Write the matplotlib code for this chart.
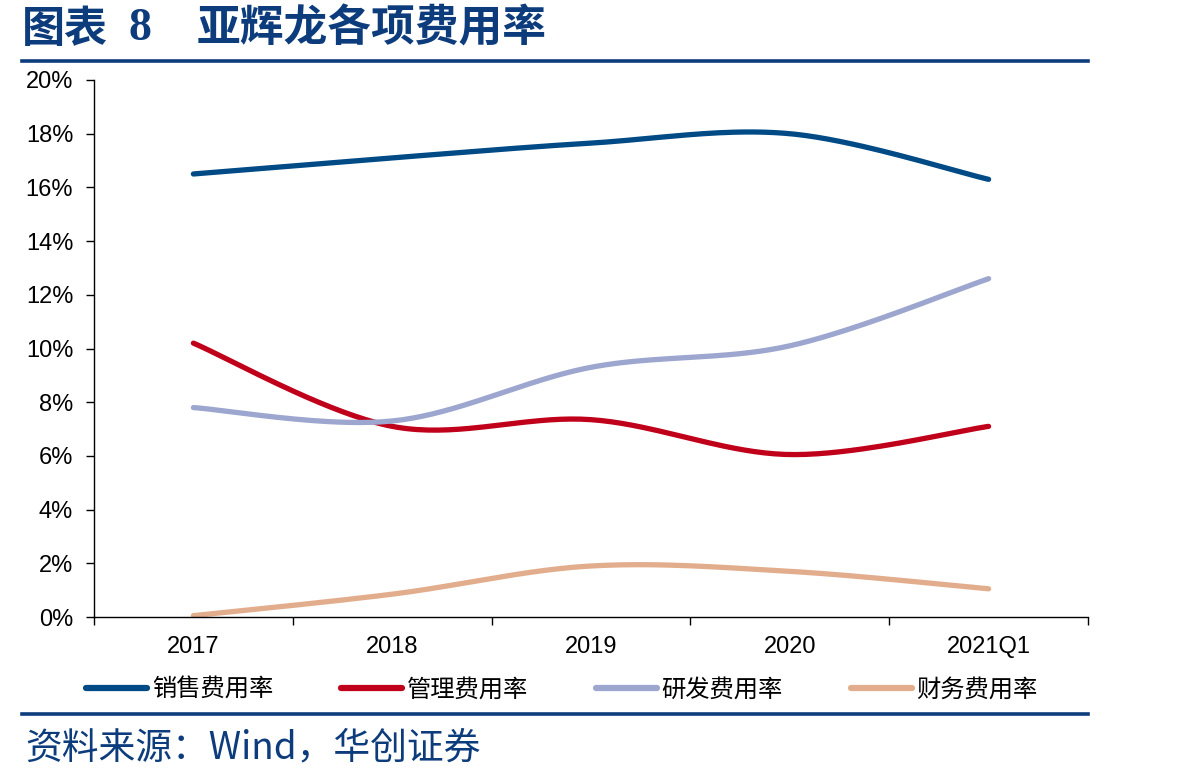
import numpy as np
import matplotlib.pyplot as plt
from matplotlib.lines import Line2D

categories = ['2017', '2018', '2019', '2020', '2021Q1']
sales = [16.5, 17.1, 17.65, 18.0, 16.3]
admin = [10.2, 7.1, 7.35, 6.05, 7.1]
rnd = [7.8, 7.3, 9.3, 10.1, 12.6]
finance = [0.05, 0.85, 1.9, 1.7, 1.05]

series_names = ['销售费用率', '管理费用率', '研发费用率', '财务费用率']
colors = ['#004A86', '#C0001A', '#9CA6CE', '#E2AD8C']

NAVY = '#0D3C7C'
CJK = ['Noto Sans CJK SC', 'DejaVu Sans']


def smooth(x, y, n=40):
    # Excel-like smoothing: Catmull-Rom converted to cubic Bezier segments
    x = np.asarray(x, float)
    y = np.asarray(y, float)
    px = np.concatenate([[x[0]], x, [x[-1]]])
    py = np.concatenate([[y[0]], y, [y[-1]]])
    xs, ys = [], []
    t = np.linspace(0, 1, n)
    for i in range(1, len(px) - 2):
        p0 = np.array([px[i], py[i]])
        p3 = np.array([px[i + 1], py[i + 1]])
        p1 = p0 + (np.array([px[i + 1], py[i + 1]]) - np.array([px[i - 1], py[i - 1]])) / 6
        p2 = p3 - (np.array([px[i + 2], py[i + 2]]) - np.array([px[i], py[i]])) / 6
        b = ((1 - t) ** 3)[:, None] * p0 + (3 * (1 - t) ** 2 * t)[:, None] * p1 \
            + (3 * (1 - t) * t ** 2)[:, None] * p2 + (t ** 3)[:, None] * p3
        xs.extend(b[:, 0])
        ys.extend(b[:, 1])
    return np.array(xs), np.array(ys)


fig = plt.figure(figsize=(11.98, 7.83), dpi=100)
ax = fig.add_axes([94 / 1198, 1 - 617 / 783, 994 / 1198, 537 / 783])

x = np.arange(len(categories))
for vals, c in zip([sales, admin, rnd, finance], colors):
    sx, sy = smooth(x, vals)
    ax.plot(sx, sy, color=c, lw=3.8, solid_capstyle='round')

ax.set_xlim(-0.5, len(categories) - 0.5)
ax.set_ylim(0, 20)
ax.set_yticks(np.arange(0, 21, 2))
ax.set_yticklabels([f'{v}%' for v in range(0, 21, 2)], fontfamily='Liberation Sans', fontsize=17)
ax.set_xticks(x)
ax.set_xticklabels(categories, fontfamily='Liberation Sans', fontsize=17)
ax.set_xticks(np.arange(-0.5, len(categories)), minor=True)
ax.tick_params(axis='x', which='major', length=0, pad=14)
ax.tick_params(axis='x', which='minor', length=6, width=1, direction='out')
ax.tick_params(axis='y', length=6, width=1, direction='out', pad=9)
for s in ['top', 'right']:
    ax.spines[s].set_visible(False)
for s in ['left', 'bottom']:
    ax.spines[s].set_linewidth(1)

handles = [Line2D([0], [0], color=c, lw=4.5, solid_capstyle='round') for c in colors]
fig.legend(handles, series_names, loc='center', bbox_to_anchor=(562 / 1198, 1 - 690 / 783),
           ncol=4, frameon=False, handlelength=2.5, handletextpad=0.2, columnspacing=2.8,
           prop={'family': CJK, 'size': 17.5})

# header / footer rules
fig.add_artist(Line2D([22 / 1198, 1088 / 1198], [1 - 61 / 783] * 2, color=NAVY, lw=2.6))
fig.add_artist(Line2D([22 / 1198, 1088 / 1198], [1 - 714 / 783] * 2, color=NAVY, lw=2.6))

ty = 1 - 29 / 783
fig.text(22 / 1198, ty, '图表', color=NAVY, fontsize=31, fontweight='bold',
         family=CJK, va='center', ha='left')
fig.text(129 / 1198, ty, '8', color=NAVY, fontsize=33, fontweight='bold',
         family=['Liberation Serif'], va='center', ha='left')
fig.text(197 / 1198, ty, '亚辉龙各项费用率', color=NAVY, fontsize=31.5, fontweight='bold',
         family=CJK, va='center', ha='left')
fig.text(25 / 1198, 1 - 748 / 783, '资料来源：Wind，华创证券', color=NAVY, fontsize=26.5,
         style='italic', family=CJK, va='center', ha='left')

fig.savefig('out.png', dpi=100)
